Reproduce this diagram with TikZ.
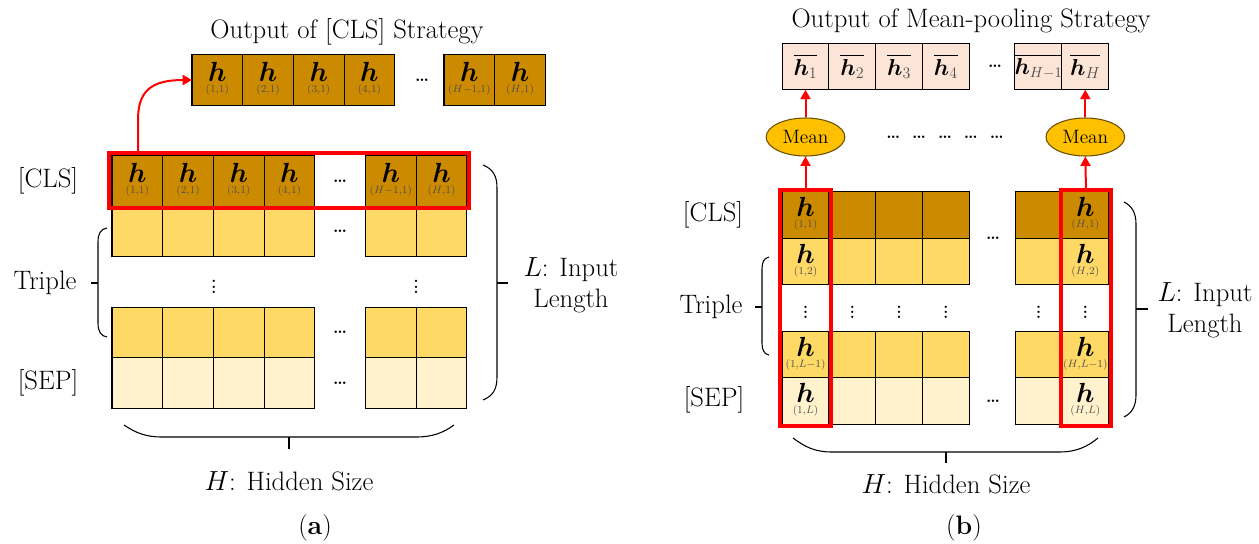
\documentclass[tikz,border=0pt]{standalone}
\usepackage{amsmath}
\usetikzlibrary{arrows.meta,shapes.geometric,fit}

\definecolor{dkgold}{HTML}{CC8A00}
\definecolor{midgold}{HTML}{FFD966}
\definecolor{palegold}{HTML}{FFF2CC}
\definecolor{peach}{HTML}{FCE4D6}
\definecolor{meanfill}{HTML}{FFC000}
\definecolor{meanline}{HTML}{6B5000}
\definecolor{subgray}{HTML}{505050}
\definecolor{hotred}{HTML}{FF0000}

% bold h with its index set underneath
\newcommand{\hcell}[1]{\begin{tabular}{@{}c@{}}\fontsize{20}{20}\selectfont$\boldsymbol{h}$\\[-3.5pt]\fontsize{8.5}{9}\selectfont\color{subgray}$#1$\end{tabular}}
% pooled vector entry (optional size for wide indices)
\newcommand{\meanh}[2][18]{\fontsize{#1}{#1}\selectfont$\overline{\boldsymbol{h}_{\textcolor{subgray}{#2}}}$}

\tikzset{
  cellA/.style={draw=black, line width=0.8pt, minimum width=38pt, minimum height=37.9pt, inner sep=0pt, outer sep=0pt},
  cellB/.style={draw=black, line width=0.8pt, minimum width=35.1pt, minimum height=34.9pt, inner sep=0pt, outer sep=0pt},
  redframe/.style={draw=hotred, line width=3pt, inner sep=0pt, outer sep=0pt},
  redarrow/.style={draw=hotred, line width=1.5pt, -{Triangle[width=7.5pt,length=7pt]}},
  lbl/.style={font=\fontsize{20}{23}\selectfont, inner sep=0pt},
  hdots/.style={font=\fontsize{13}{13}\selectfont\bfseries, inner sep=0pt},
  vdot/.style={font=\fontsize{12}{12}\selectfont\bfseries, inner sep=0pt},
  bracket/.style={draw=black, line width=0.8pt},
  meanbubble/.style={ellipse, draw=meanline, line width=0.8pt, fill=meanfill, minimum width=59pt, minimum height=28.5pt, inner sep=0pt, font=\fontsize{14.5}{15}\selectfont},
}

\begin{document}
\begin{tikzpicture}[x=0.75pt,y=-0.75pt]
\useasboundingbox (0,0) rectangle (1259,543);

% ---------------- (a) [CLS] strategy ----------------
\node[lbl] (titleA) at (347,32) {Output of [CLS] Strategy};

% output vector
\foreach \i/\s in {0/{(1{,}1)},1/{(2{,}1)},2/{(3{,}1)},3/{(4{,}1)}}
  \node[cellA,fill=dkgold] (aout\i) at ({217.35+50.7*\i},80) {\hcell{\s}};
\node[hdots] (aoutdots) at (422,80) {\dots};
\node[cellA,fill=dkgold] (aout4) at (469.35,80) {\hcell{(H{-}1{,}1)}};
\node[cellA,fill=dkgold] (aout5) at (520.05,80) {\hcell{(H{,}1)}};

% [CLS] row of the hidden states
\foreach \i/\s in {0/{(1{,}1)},1/{(2{,}1)},2/{(3{,}1)},3/{(4{,}1)}}
  \node[cellA,fill=dkgold] (aC\i) at ({137.35+50.7*\i},181) {\hcell{\s}};
\node[hdots] (aCdots) at (340,181) {\dots};
\node[cellA,fill=dkgold] (aC4) at (390.85,181) {\hcell{(H{-}1{,}1)}};
\node[cellA,fill=dkgold] (aC5) at (441.55,181) {\hcell{(H{,}1)}};

% remaining rows
\foreach \r/\yy/\fc in {2/231.5/midgold,3/332.5/midgold,4/383/palegold}{
  \foreach \i in {0,1,2,3}
    \node[cellA,fill=\fc] (aR\r C\i) at ({137.35+50.7*\i},\yy) {};
  \node[cellA,fill=\fc] (aR\r C4) at (390.85,\yy) {};
  \node[cellA,fill=\fc] (aR\r C5) at (441.55,\yy) {};
  \node[hdots] (aR\r dots) at (340,\yy) {\dots};
}
\node[vdot] (avd1) at (214,283) {$\vdots$};
\node[vdot] (avd2) at (416,283) {$\vdots$};

% highlighted [CLS] row and its arrow
\node[redframe, fit={(109,153) (469,208)}] (redA) {};
\coordinate (aFoot) at (138,151.5);
\draw[redarrow] (aFoot) -- (138,120) .. controls (138,92) and (150,80) .. (aout0.west);

% row labels
\node[lbl] (aCLS) at (48,181) {[CLS]};
\node[lbl] (aTriple) at (45,283) {Triple};
\node[lbl] (aSEP) at (48,383) {[SEP]};

% brackets
\draw[bracket] (107,228) .. controls (101,229) and (98,233) .. (98,242) -- (98,323) .. controls (98,332) and (101,336) .. (107,337);
\draw[bracket] (91,283) -- (98,283);
\draw[bracket] (483,165) .. controls (493,169) and (497,176) .. (497,188) -- (497,377) .. controls (497,389) and (493,396) .. (483,400);
\draw[bracket] (497,283) -- (508,283);
\node[lbl, align=center] (aLen) at (571,285) {$L$: Input\\Length};
\draw[bracket] (124,425) .. controls (136,433) and (146,437) .. (162,437) -- (416,437) .. controls (432,437) and (443,433) .. (454,425);
\draw[bracket] (289,437) -- (289,449);
\node[lbl] (aHid) at (289,481) {$H$: Hidden Size};
\node[lbl] (capA) at (315,528) {(\textbf{a})};

% ---------------- (b) mean-pooling strategy ----------------
\node[lbl] (titleB) at (971,21) {Output of Mean-pooling Strategy};

\foreach \i/\s in {0/1,1/2,2/3,3/4}
  \node[cellB,fill=peach] (bout\i) at ({805.5+46.8*\i},66.5) {\meanh{\s}};
\node[hdots] (boutdots) at (995,66) {\dots};
\node[cellB,fill=peach] (bout4) at (1038.5,66.5) {\meanh[16]{H{-}1}};
\node[cellB,fill=peach] (bout5) at (1085.3,66.5) {\meanh{H}};

\node[meanbubble] (meanL) at (805.5,137) {Mean};
\node[meanbubble] (meanR) at (1085.3,137) {Mean};
\node[hdots] (meandots) at (945,137) {\dots\hspace{9pt}\dots\hspace{9pt}\dots\hspace{9pt}\dots\hspace{9pt}\dots};

% hidden state grid
\foreach \r/\yy/\fc/\k in {1/215/dkgold/1, 2/261.5/midgold/2, 4/355/midgold/{L{-}1}, 5/401/palegold/L}{
  \node[cellB,fill=\fc] (bR\r C1) at (805.5,\yy) {\hcell{(1{,}\k)}};
  \foreach \c in {2,3,4}
    \node[cellB,fill=\fc] (bR\r C\c) at ({805.5+46.8*(\c-1)},\yy) {};
  \node[cellB,fill=\fc] (bR\r C5) at (1038.5,\yy) {};
  \node[cellB,fill=\fc] (bR\r C6) at (1085.3,\yy) {\hcell{(H{,}\k)}};
}
\foreach \xx [count=\n] in {805.5,852.3,899.1,945.9,1038.5,1085.3}
  \node[vdot] (bvd\n) at (\xx,308.5) {$\vdots$};
\node[hdots] (bdots1) at (993,238) {\dots};
\node[hdots] (bdots2) at (993,401) {\dots};

% highlighted columns and arrows
\node[redframe, fit={(780,190) (831,426)}] (redL) {};
\node[redframe, fit={(1061,190) (1111,426)}] (redR) {};
\draw[redarrow] (redL.north) -- (meanL.south);
\draw[redarrow] (meanL.north) -- (bout0.south);
\draw[redarrow] (redR.north) -- (meanR.south);
\draw[redarrow] (meanR.north) -- (bout5.south);

% row labels
\node[lbl] (bCLS) at (713,215) {[CLS]};
\node[lbl] (bTriple) at (711,307) {Triple};
\node[lbl] (bSEP) at (714,400) {[SEP]};

% brackets
\draw[bracket] (769,257) .. controls (764,258) and (762,262) .. (762,269) -- (762,343) .. controls (762,350) and (764,354) .. (769,355);
\draw[bracket] (755,307) -- (762,307);
\draw[bracket] (1124,202) .. controls (1132,206) and (1136,213) .. (1136,224) -- (1136,395) .. controls (1136,406) and (1132,413) .. (1124,417);
\draw[bracket] (1136,309) -- (1148,309);
\node[lbl, align=center] (bLen) at (1205,310) {$L$: Input\\Length};
\draw[bracket] (793,438) .. controls (805,447) and (815,452) .. (832,452) -- (1059,452) .. controls (1076,452) and (1087,447) .. (1098,438);
\draw[bracket] (946,452) -- (946,463);
\node[lbl] (bHid) at (946,484) {$H$: Hidden Size};
\node[lbl] (capB) at (964,528) {(\textbf{b})};
\end{tikzpicture}
\end{document}
